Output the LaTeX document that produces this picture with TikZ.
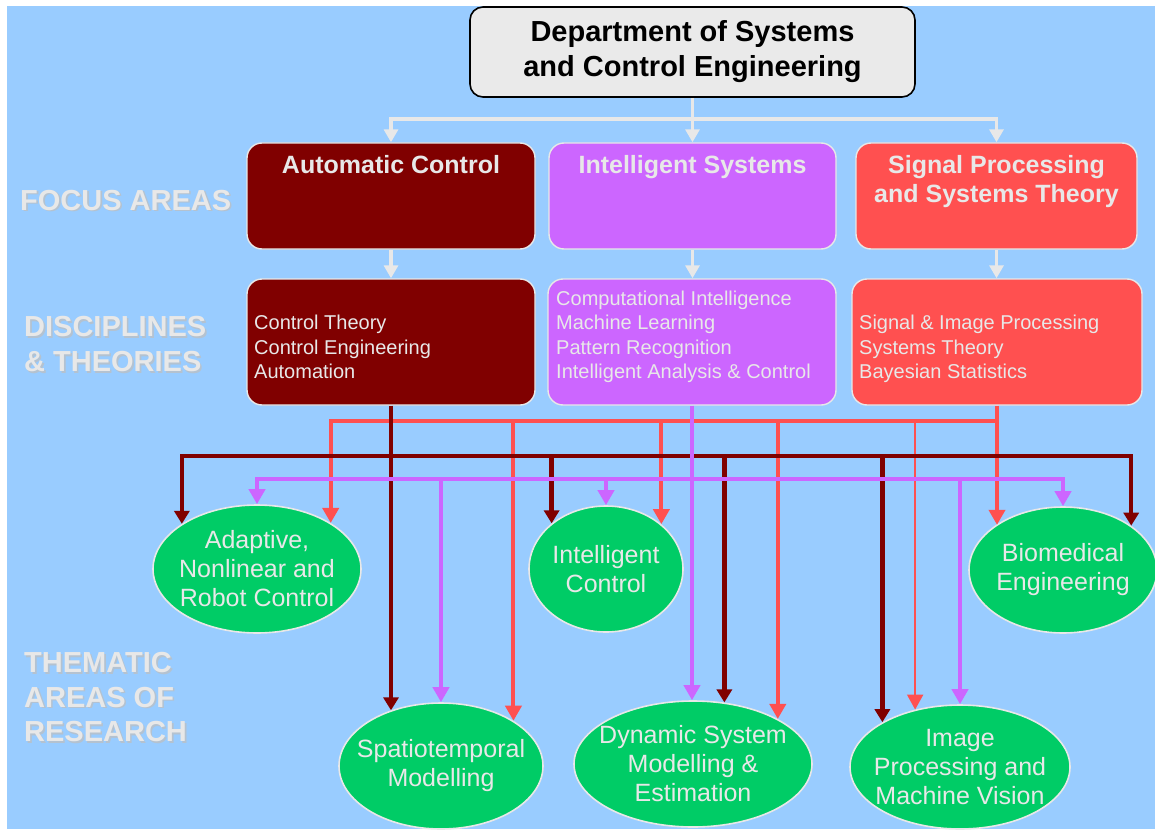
\documentclass[tikz,border=0pt]{standalone}
\usepackage{fontspec}
\setmainfont{Liberation Sans}
\usetikzlibrary{arrows.meta,positioning,shapes.geometric}

\definecolor{skyblue}{HTML}{99CCFF}
\definecolor{deptgray}{HTML}{EAEAEA}
\definecolor{paleline}{HTML}{E8E8E8}
\definecolor{acred}{HTML}{800000}
\definecolor{islilac}{HTML}{CC66FF}
\definecolor{spred}{HTML}{FF5050}
\definecolor{areagreen}{HTML}{00CC66}
\definecolor{labelshadow}{HTML}{B4C2D0}

\newcommand{\shadowed}[1]{\rlap{\raisebox{-1.6pt}{\kern1.6pt\textcolor{labelshadow}{#1}}}#1}

\begin{document}
\begin{tikzpicture}[x=1pt,y=-1pt,
  dept/.style={draw=black,line width=1.6pt,fill=deptgray,rounded corners=13pt,inner sep=0pt,
    minimum width=445pt,minimum height=90pt,align=center,font=\bfseries\fontsize{29}{35}\selectfont},
  focus/.style={draw=paleline,line width=1.4pt,rounded corners=15pt,inner sep=0pt,minimum height=106pt},
  discipline/.style={draw=paleline,line width=1.4pt,rounded corners=15pt,inner sep=0pt,minimum height=126pt},
  focustext/.style={inner sep=0pt,text=paleline,align=center,font=\bfseries\fontsize{25}{29}\selectfont},
  disctext/.style={inner sep=0pt,text=paleline,align=left,font=\fontsize{20}{24.5}\selectfont},
  thema/.style={ellipse,draw=paleline,line width=1.6pt,fill=areagreen,inner sep=0pt,inner xsep=-20pt,
    align=center,text=paleline,font=\fontsize{25}{29}\selectfont},
  sidelabel/.style={inner sep=0pt,align=left,text=paleline,font=\bfseries\fontsize{29}{34.5}\selectfont},
  paleflow/.style={draw=paleline,line width=3.5pt},
  paletip/.style={-{Triangle[length=13pt,width=14pt]}},
  acwire/.style={draw=acred,line width=4.5pt,line cap=rect},
  iswire/.style={draw=islilac,line width=4pt,line cap=rect},
  spwire/.style={draw=spred,line width=4pt,line cap=rect},
  actip/.style={line cap=butt,-{Triangle[length=13pt,width=15pt]}},
  istip/.style={line cap=butt,-{Triangle[length=15pt,width=16pt]}},
  sptip/.style={line cap=butt,-{Triangle[length=15pt,width=16pt]}}]
\useasboundingbox (0,0) rectangle (1155,829);
\fill[white] (0,0) rectangle (1155,829);
\fill[skyblue] (7,6) rectangle (1155,829);

% ROW LABELS
\node[sidelabel,anchor=west] (focuslbl) at (20,201) {\shadowed{FOCUS AREAS}};
\node[sidelabel,anchor=west] (disclbl) at (24,345) {\shadowed{DISCIPLINES}\\\shadowed{\& THEORIES}};
\node[sidelabel,anchor=west] (themelbl) at (24,698) {\shadowed{THEMATIC}\\\shadowed{AREAS OF}\\\shadowed{RESEARCH}};

% DEPARTMENT AND FOCUS AREAS
\node[dept] (dept) at (692.5,52) {Department of Systems\\and Control Engineering};
\node[focus,fill=acred,minimum width=288pt] (ac) at (391,196) {};
\node[focus,fill=islilac,minimum width=287pt] (is) at (692.5,196) {};
\node[focus,fill=spred,minimum width=281pt] (sp) at (996.5,196) {};
\node[focustext,below=13pt of ac.north] (actext) {Automatic Control};
\node[focustext,below=13pt of is.north] (istext) {Intelligent Systems};
\node[focustext,below=13pt of sp.north] (sptext) {Signal Processing\\and Systems Theory};

% DISCIPLINES AND THEORIES
\node[discipline,fill=acred,minimum width=288pt] (acd) at (391,342) {};
\node[discipline,fill=islilac,minimum width=288pt] (isd) at (692,342) {};
\node[discipline,fill=spred,minimum width=290pt] (spd) at (997,342) {};
\node[disctext,anchor=west] (acdtext) at (254,347) {Control Theory\\Control Engineering\\Automation};
\node[disctext,anchor=west] (isdtext) at (556,337)
  {Computational Intelligence\\Machine Learning\\Pattern Recognition\\Intelligent Analysis \& Control};
\node[disctext,anchor=west] (spdtext) at (859,349) {Signal \& Image Processing\\Systems Theory\\Bayesian Statistics};

% THEMATIC AREAS OF RESEARCH
\node[thema,minimum width=208pt,minimum height=128pt] (adapt) at (257,569) {Adaptive,\\Nonlinear and\\Robot Control};
\node[thema,minimum width=154pt,minimum height=126pt] (intctl) at (606,569) {Intelligent\\Control};
\node[thema,minimum width=188pt,minimum height=126pt] (biomed) at (1063,570) {Biomedical\\Engineering};
\node[thema,minimum width=204pt,minimum height=126pt] (spatio) at (441,766) {Spatiotemporal\\Modelling};
\node[thema,minimum width=238pt,minimum height=126pt] (dynsys) at (693,764) {Dynamic System\\Modelling \&\\Estimation};
\node[thema,minimum width=220pt,minimum height=124pt] (imgproc) at (960,767) {Image\\Processing and\\Machine Vision};

% BUS LEVELS
\coordinate (tbus) at (0,119);
\coordinate (rbus) at (0,421);
\coordinate (dbus) at (0,456);
\coordinate (pbus) at (0,479);

% DEPARTMENT -> FOCUS -> DISCIPLINES
\draw[paleflow] (dept.south) -- (dept.south |- tbus);
\draw[paleflow,line cap=rect] (ac.north |- tbus) -- (sp.north |- tbus);
\foreach \f in {ac,is,sp}
  \draw[paleflow,paletip] (\f.north |- tbus) -- (\f.north);
\foreach \f/\d in {ac/acd,is/isd,sp/spd}
  \draw[paleflow,paletip] (\f.south) -- (\f.south |- \d.north);

% SIGNAL PROCESSING WIRES
\draw[spwire] (adapt.32 |- rbus) -- (spd.south |- rbus);
\draw[spwire,sptip] (spd.south) -- (spd.south |- biomed.146);
\foreach \a in {adapt.32,spatio.32,intctl.39,dynsys.28}
  \draw[spwire,sptip] (\a |- rbus) -- (\a);
\draw[spwire,sptip,line width=2pt] (imgproc.128 |- rbus) -- (imgproc.128);

% AUTOMATIC CONTROL WIRES
\draw[acwire] (adapt.149 |- dbus) -- (biomed.33 |- dbus);
\draw[acwire,actip] (acd.south) -- (acd.south |- spatio.132);
\foreach \a in {adapt.149,intctl.140,dynsys.63,imgproc.150,biomed.33}
  \draw[acwire,actip] (\a |- dbus) -- (\a);

% INTELLIGENT SYSTEMS WIRES
\draw[iswire] (adapt.north |- pbus) -- (biomed.north |- pbus);
\draw[iswire,istip] (isd.south) -- (isd.south |- dynsys.north);
\foreach \a in {adapt,spatio,intctl,imgproc,biomed}
  \draw[iswire,istip] (\a.north |- pbus) -- (\a.north);
\end{tikzpicture}
\end{document}
